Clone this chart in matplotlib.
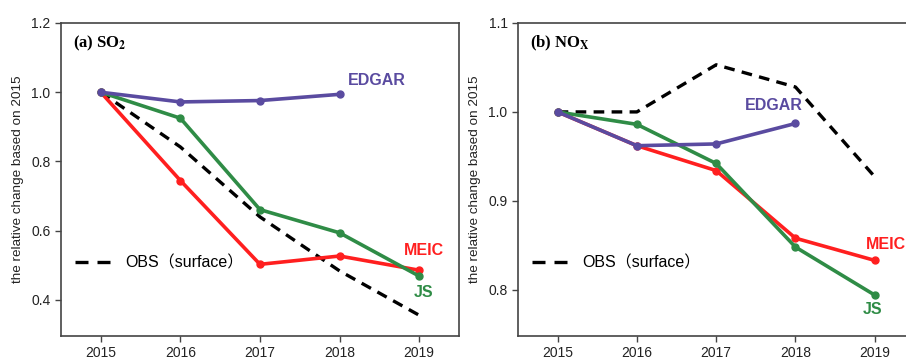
import matplotlib

matplotlib.use("Agg")
import matplotlib.pyplot as plt
from matplotlib.lines import Line2D

YEARS = [2015, 2016, 2017, 2018, 2019]
EDGAR_YEARS = [2015, 2016, 2017, 2018]

# SO2, relative to 2015
SO2_EDGAR = [1.0, 0.972, 0.976, 0.994]
SO2_JS = [1.0, 0.925, 0.661, 0.594, 0.469]
SO2_MEIC = [1.0, 0.745, 0.503, 0.527, 0.486]
SO2_OBS = [1.0, 0.842, 0.640, 0.484, 0.356]

# NOx, relative to 2015
NOX_EDGAR = [1.0, 0.962, 0.964, 0.987]
NOX_JS = [1.0, 0.986, 0.942, 0.848, 0.794]
NOX_MEIC = [1.0, 0.962, 0.934, 0.858, 0.833]
NOX_OBS = [1.0, 1.0, 1.053, 1.028, 0.927]

C_EDGAR = "#5a4ba0"
C_JS = "#2f8c46"
C_MEIC = "#ff1f1f"
SPINE = "#444444"

SANS = ["Liberation Sans", "Noto Sans CJK SC", "DejaVu Sans"]
plt.rcParams["font.family"] = SANS
plt.rcParams["mathtext.fontset"] = "stix"


def draw_panel(ax, edgar, js, meic, obs, ylim, yticks, title, label_pos):
    ax.plot(YEARS, obs, color="black", ls=(0, (3.2, 2.2)), lw=2.4, zorder=2)
    ax.plot(YEARS, meic, color=C_MEIC, lw=2.6, marker="o", ms=5, zorder=3)
    ax.plot(YEARS, js, color=C_JS, lw=2.6, marker="o", ms=5, zorder=4)
    ax.plot(EDGAR_YEARS, edgar, color=C_EDGAR, lw=2.6, marker="o", ms=5, zorder=5)

    ax.set_xlim(2014.5, 2019.5)
    ax.set_ylim(*ylim)
    ax.set_xticks(YEARS)
    ax.set_yticks(yticks)
    ax.set_yticklabels([f"{t:.1f}" for t in yticks])
    ax.tick_params(direction="out", length=4, width=1, color=SPINE, labelsize=10, labelcolor="#222222")
    for sp in ax.spines.values():
        sp.set_color(SPINE)
        sp.set_linewidth(1.2)
    ax.set_ylabel("the relative change based on 2015", fontsize=9.7, color="#222222", labelpad=5)

    ax.text(0.03, 0.935, title, transform=ax.transAxes, ha="left", va="center",
            fontsize=12, fontweight="bold", family="Liberation Serif")

    for name, color in [("EDGAR", C_EDGAR), ("MEIC", C_MEIC), ("JS", C_JS)]:
        x, y = label_pos[name]
        ax.text(x, y, name, color=color, fontsize=11.5, fontweight="bold", ha="center", va="center")

    # legend key: two long dashes
    obs_handle = Line2D([], [], color="black", ls=(0, (3.9, 2.7)), lw=2.4)
    ax.legend([obs_handle], ["OBS（surface）"], loc="lower left", bbox_to_anchor=(0.0, 0.162),
              frameon=False, fontsize=11.5, handlelength=2.2, handletextpad=0.9)


fig = plt.figure(figsize=(9.06, 3.57), dpi=100)
ax1 = fig.add_axes([0.0673, 0.0588, 0.4393, 0.8768])
ax2 = fig.add_axes([0.5717, 0.0588, 0.4376, 0.8768])

draw_panel(ax1, SO2_EDGAR, SO2_JS, SO2_MEIC, SO2_OBS, (0.296, 1.2), [0.4, 0.6, 0.8, 1.0, 1.2],
           r"(a) SO$_\mathbf{2}$",
           {"EDGAR": (2018.47, 1.035), "MEIC": (2019.06, 0.544), "JS": (2019.06, 0.423)})
draw_panel(ax2, NOX_EDGAR, NOX_JS, NOX_MEIC, NOX_OBS, (0.748, 1.1), [0.8, 0.9, 1.0, 1.1],
           r"(b) NO$_\mathbf{X}$",
           {"EDGAR": (2017.73, 1.0067), "MEIC": (2019.14, 0.851), "JS": (2018.97, 0.778)})

fig.savefig("out.png", dpi=100)
